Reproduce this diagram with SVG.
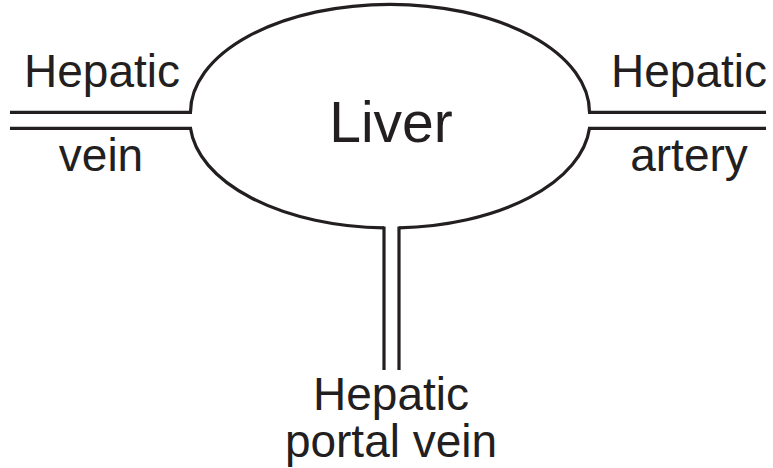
<svg xmlns="http://www.w3.org/2000/svg" width="773" height="468" viewBox="0 0 773 468">
<style>
.ln{fill:none;stroke:#231f20;stroke-width:3.2;stroke-linecap:butt;stroke-linejoin:miter}
.t{font-family:"Liberation Sans",Arial,sans-serif;fill:#231f20;text-anchor:middle}
.s{font-size:46px}
.b{font-size:57px}
</style>
<rect width="773" height="468" fill="#fff"/>
<g id="liver">
<path class="ln" d="M190.5,112.3 A199.5 108 0 0 1 589.5,112.3 M589.5,128.3 A199.5 108 0 0 1 399,227.9 M384,227.9 A199.5 108 0 0 1 190.5,128.3"/>
<text class="t b" x="391" y="142">Liver</text>
</g>
<g id="connectors">
<path class="ln" d="M10,112.3 H192 M10,128.3 H192"/>
<path class="ln" d="M588,112.3 H766 M588,128.3 H766"/>
<path class="ln" d="M384,226.5 V370 M399,226.5 V370"/>
</g>
<g id="hepatic-vein">
<text class="t s" x="102" y="87">Hepatic</text>
<text class="t s" x="101" y="171">vein</text>
</g>
<g id="hepatic-artery">
<text class="t s" x="689" y="87">Hepatic</text>
<text class="t s" x="689" y="171">artery</text>
</g>
<g id="hepatic-portal-vein">
<text class="t s" x="391" y="410">Hepatic</text>
<text class="t s" x="391" y="457">portal vein</text>
</g>
</svg>
